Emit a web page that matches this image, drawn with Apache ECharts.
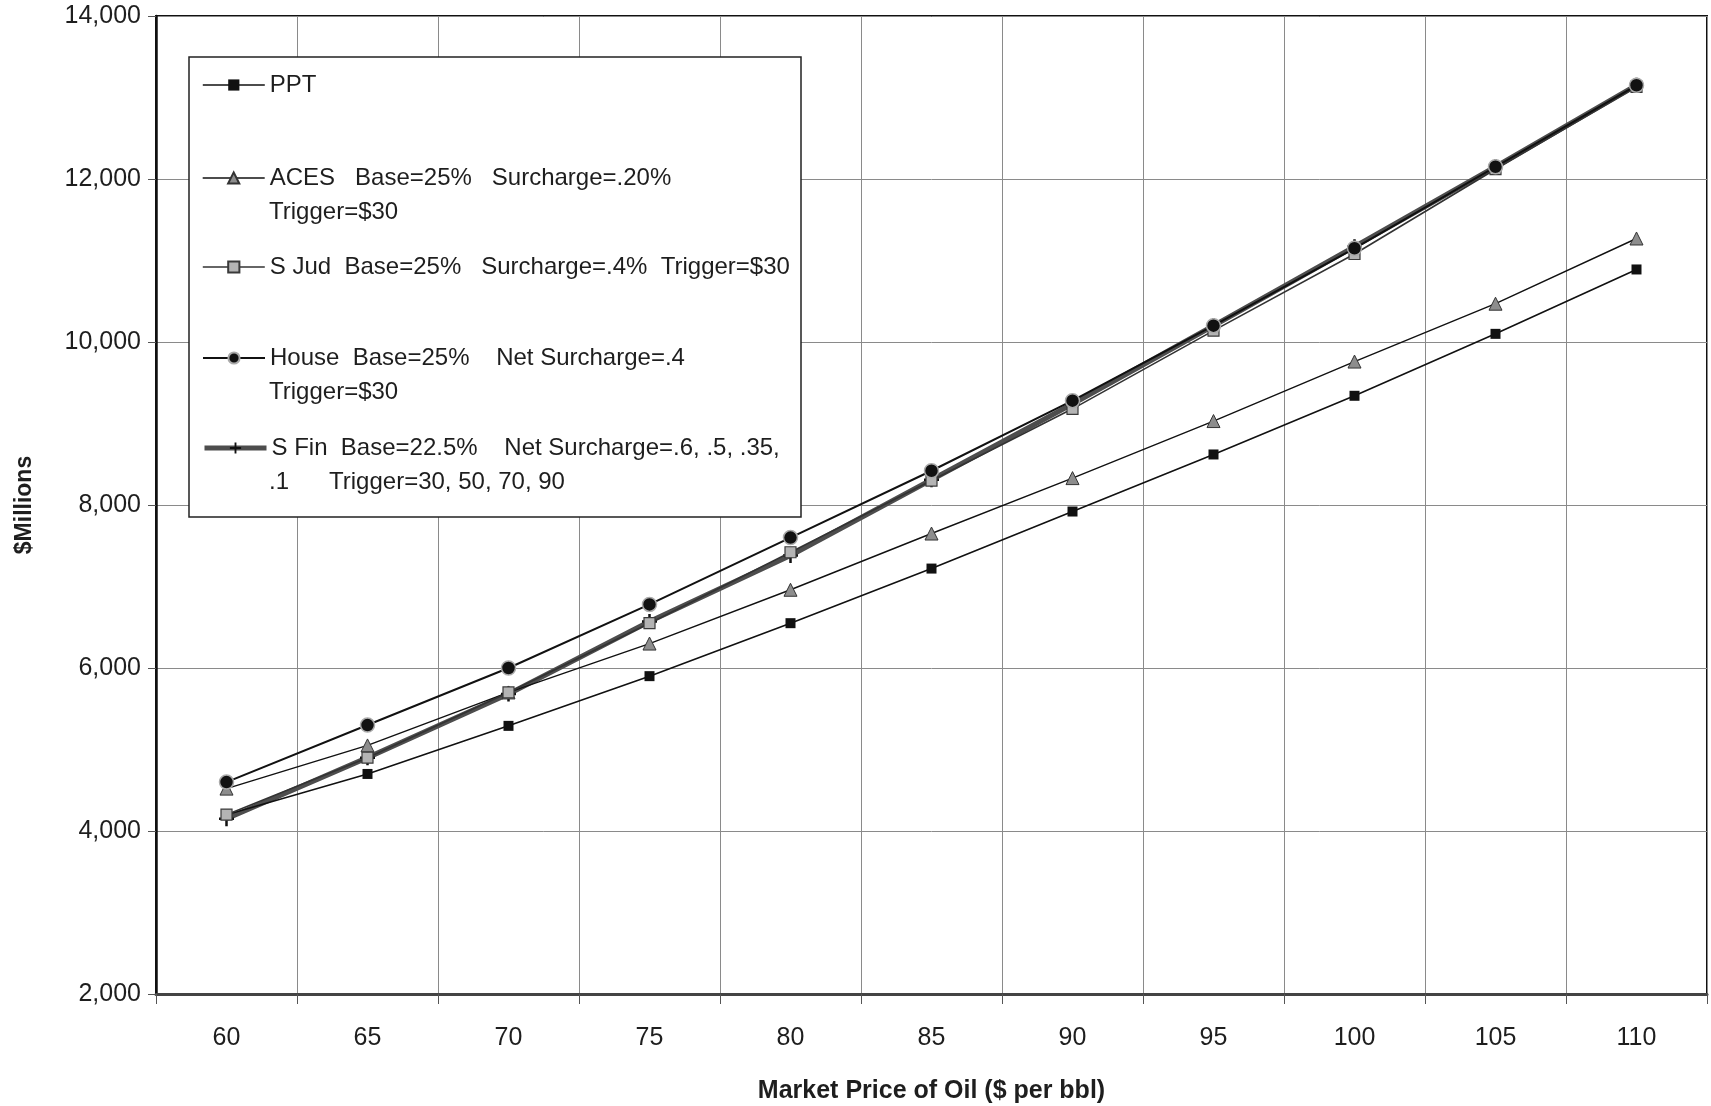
<!DOCTYPE html>
<html>
<head>
<meta charset="utf-8">
<title>Production tax revenue by market price of oil</title>
<script src="https://cdn.jsdelivr.net/npm/echarts@6/dist/echarts.min.js"></script>
<style>
  html, body { margin: 0; padding: 0; background: #ffffff; }
  #chart { width: 1711px; height: 1106px; }
</style>
</head>
<body>
<div id="chart"></div>
<script>
// Market price of oil ($ per bbl)
const prices = ['60', '65', '70', '75', '80', '85', '90', '95', '100', '105', '110'];

// Revenue under each tax proposal, $ millions
const ppt   = [4200, 4700, 5290, 5900, 6550, 7220, 7920, 8620, 9340, 10100, 10890];
const aces  = [4520, 5050, 5700, 6300, 6960, 7650, 8330, 9030, 9760, 10470, 11270];
const sJud  = [4200, 4900, 5700, 6550, 7420, 8300, 9180, 10140, 11080, 12120, 13130];
const house = [4600, 5300, 6000, 6780, 7600, 8420, 9280, 10200, 11150, 12150, 13150];
const sFin  = [4150, 4900, 5680, 6570, 7380, 8310, 9240, 10200, 11170, 12150, 13150];

// Value axis range and step
const yMin = 2000;
const yMax = 14000;
const yStep = 2000;

// Series / legend names (first line) and their continuation lines
const names = [
  'PPT',
  'ACES   Base=25%   Surcharge=.20%',
  'S Jud  Base=25%   Surcharge=.4%  Trigger=$30',
  'House  Base=25%    Net Surcharge=.4',
  'S Fin  Base=22.5%    Net Surcharge=.6, .5, .35,'
];
const continuations = [
  { after: 1, text: 'Trigger=$30' },
  { after: 3, text: 'Trigger=$30' },
  { after: 4, text: '.1      Trigger=30, 50, 70, 90' }
];

const FONT = '"Liberation Sans", Arial, Helvetica, sans-serif';
const TEXT = '#1e1e1e';

// legend rows: vertical centre of each entry's first line
const legendRowY = [85, 178, 267, 358, 448];
const legendLeft = 202;
const legendIconW = 62;
const legendTextX = legendLeft + legendIconW + 5;

const plusPath = 'path://M5,0H7V5H12V7H7V12H5V7H0V5H5Z';

const chart = echarts.init(document.getElementById('chart'), null, { renderer: 'canvas' });

const seriesDefs = [
  { data: ppt,   symbol: 'rect',     size: 10, line: { color: '#111', width: 1.6 }, item: { color: '#111', borderColor: '#111', borderWidth: 0 }, z: 3 },
  { data: aces,  symbol: 'triangle', size: 13, line: { color: '#111', width: 1.4 }, item: { color: '#8d8d8d', borderColor: '#333', borderWidth: 1 }, z: 3 },
  { data: sJud,  symbol: 'rect',     size: 11, line: { color: '#333', width: 1.6 }, item: { color: '#b4b4b4', borderColor: '#3a3a3a', borderWidth: 1.2 }, z: 3 },
  { data: house, symbol: 'circle',   size: 14, line: { color: '#111', width: 2 },   item: { color: '#111', borderColor: '#aaa', borderWidth: 1.5 }, z: 4 },
  { data: sFin,  symbol: plusPath,   size: 15, line: { color: '#4d4d4d', width: 5 }, item: { color: '#111', borderWidth: 0 }, z: 2 }
];

const series = seriesDefs.map((d, i) => ({
  name: names[i],
  type: 'line',
  data: d.data,
  symbol: d.symbol,
  symbolSize: d.size,
  showSymbol: true,
  lineStyle: d.line,
  itemStyle: d.item,
  emphasis: { disabled: true },
  animation: false,
  z: d.z
}));

const legends = names.map((n, i) => ({
  data: [n],
  orient: 'vertical',
  left: legendLeft,
  top: legendRowY[i] - 12,
  padding: 0,
  itemGap: 0,
  itemWidth: legendIconW,
  itemHeight: 14,
  selectedMode: false,
  lineStyle: { width: seriesDefs[i].line.width, color: seriesDefs[i].line.color },
  textStyle: { fontFamily: FONT, fontSize: 24, lineHeight: 24, color: TEXT }
}));

const graphics = [
  {
    type: 'rect',
    z: 1,
    shape: { x: 189, y: 57, width: 612, height: 460 },
    style: { fill: '#ffffff', stroke: '#222', lineWidth: 1.5 }
  }
].concat(continuations.map(c => ({
  type: 'text',
  z: 10,
  style: {
    text: c.text,
    x: legendTextX,
    y: legendRowY[c.after] + 34,
    fontFamily: FONT,
    fontSize: 24,
    fill: TEXT,
    verticalAlign: 'middle'
  }
})));

chart.setOption({
  backgroundColor: '#ffffff',
  animation: false,
  grid: {
    left: 156,
    right: 4,
    top: 16,
    bottom: 112,
    show: true,
    borderColor: '#111',
    borderWidth: 2,
    containLabel: false,
    outerBoundsMode: 'none'
  },
  legend: legends,
  xAxis: {
    type: 'category',
    data: prices,
    boundaryGap: true,
    name: 'Market Price of Oil ($ per bbl)',
    nameLocation: 'middle',
    nameGap: 85,
    nameTextStyle: { fontFamily: FONT, fontSize: 25, fontWeight: 'bold', color: TEXT },
    axisLine: { show: true, lineStyle: { color: '#444', width: 3 } },
    axisTick: { show: true, inside: false, length: 10, alignWithLabel: false, lineStyle: { color: '#555', width: 1 } },
    axisLabel: { fontFamily: FONT, fontSize: 25, color: TEXT, margin: 32 },
    splitLine: { show: true, lineStyle: { color: '#8a8a8a', width: 1 } }
  },
  yAxis: {
    type: 'value',
    min: yMin,
    max: yMax,
    interval: yStep,
    name: '$Millions',
    nameLocation: 'middle',
    nameGap: 120,
    nameRotate: 90,
    nameTextStyle: { fontFamily: FONT, fontSize: 23, fontWeight: 'bold', color: TEXT },
    axisLine: { show: true, lineStyle: { color: '#111', width: 2.5 } },
    axisTick: { show: true, inside: false, length: 8, lineStyle: { color: '#555', width: 1 } },
    axisLabel: {
      fontFamily: FONT, fontSize: 25, color: TEXT, margin: 15,
      formatter: v => v.toLocaleString('en-US')
    },
    splitLine: { show: true, lineStyle: { color: '#8a8a8a', width: 1 } }
  },
  graphic: graphics,
  series: series
});
</script>
</body>
</html>
